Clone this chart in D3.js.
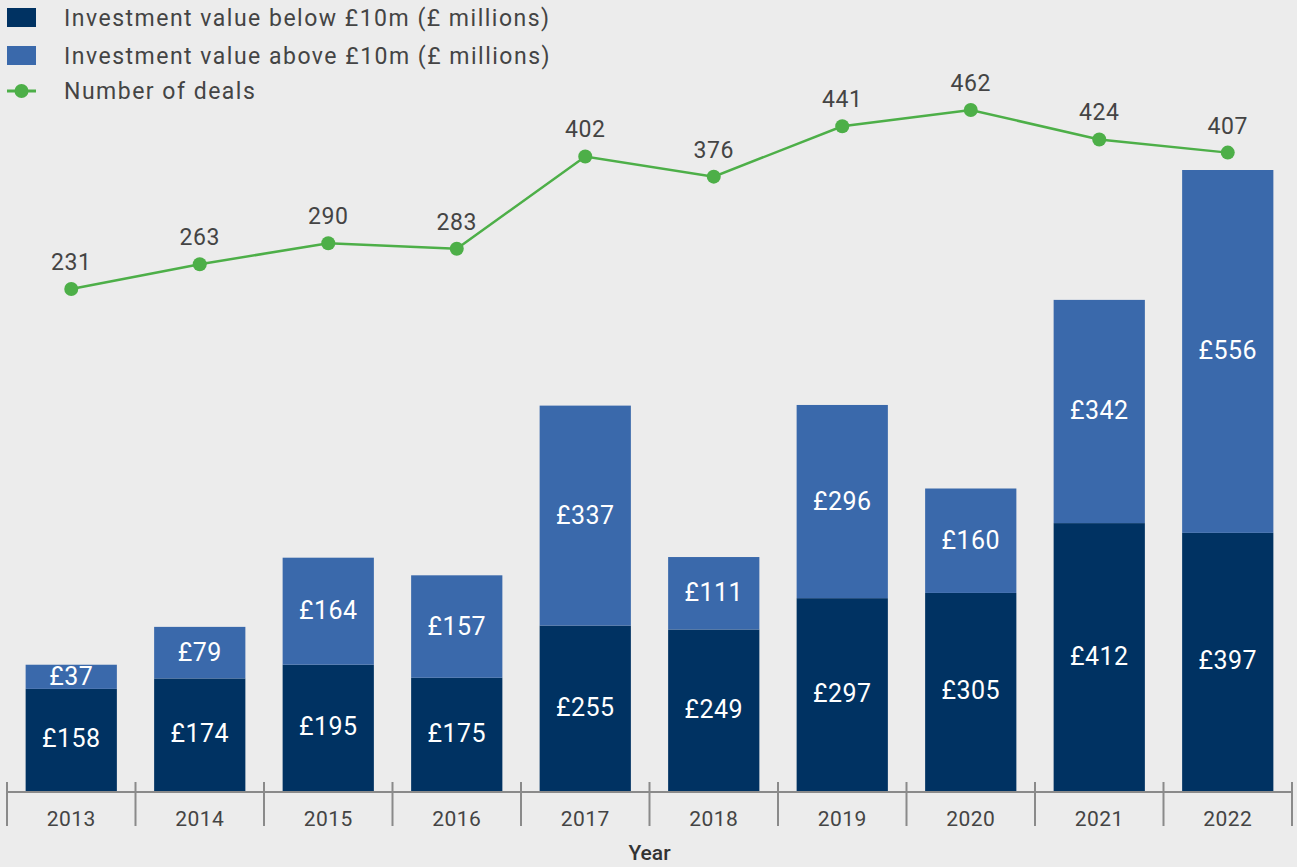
<!DOCTYPE html>
<html>
<head>
<meta charset="utf-8">
<script src="https://cdn.jsdelivr.net/npm/d3@7"></script>
<style>
  body { margin: 0; background: #ececec; }
  svg { display: block; font-family: Roboto, "Open Sans", sans-serif; }
</style>
</head>
<body>
<svg id="chart" width="1297" height="867"></svg>
<script>
// chart data
var years = ["2013", "2014", "2015", "2016", "2017", "2018", "2019", "2020", "2021", "2022"];
var belowTen = [158, 174, 195, 175, 255, 249, 297, 305, 412, 397];
var aboveTen = [37, 79, 164, 157, 337, 111, 296, 160, 342, 556];
var deals = [231, 263, 290, 283, 402, 376, 441, 462, 424, 407];
var legendLabels = ["Investment value below £10m (£ millions)", "Investment value above £10m (£ millions)", "Number of deals"];

var width = 1297, height = 867,
  left = 7, right = 1292, baseline = 792,
  darkBlue = "#003262", lightBlue = "#3a69ab", green = "#4daf48", textCol = "#444";

var svg = d3.select("#chart");
svg.append("rect").attr("width", width).attr("height", height).attr("fill", "#ececec");

var x = d3.scaleBand().domain(years).range([left, right]).paddingInner(0.29).paddingOuter(0.145);
var band = d3.scaleBand().domain(years).range([left, right]);
var y = d3.scaleLinear().domain([0, 953]).range([baseline, 170]);
var yLine = d3.scaleLinear().domain([0, 462]).range([468, 110]);

var rows = years.map(function(yr, i) {
  return { year: yr, below: belowTen[i], above: aboveTen[i], deals: deals[i] };
});

// stacked bars
var g = svg.append("g");
rows.forEach(function(d) {
  g.append("rect")
    .attr("x", x(d.year)).attr("width", x.bandwidth())
    .attr("y", y(d.below)).attr("height", baseline - y(d.below))
    .attr("fill", darkBlue);
  g.append("rect")
    .attr("x", x(d.year)).attr("width", x.bandwidth())
    .attr("y", y(d.below + d.above)).attr("height", y(d.below) - y(d.below + d.above))
    .attr("fill", lightBlue);
  g.append("text")
    .attr("x", x(d.year) + x.bandwidth() / 2)
    .attr("y", (y(0) + y(d.below)) / 2 - 2)
    .attr("dy", "0.36em").attr("text-anchor", "middle")
    .attr("fill", "#fff").attr("font-size", 25).attr("letter-spacing", 0.5)
    .text("£" + d.below);
  g.append("text")
    .attr("x", x(d.year) + x.bandwidth() / 2)
    .attr("y", (y(d.below) + y(d.below + d.above)) / 2 - 1)
    .attr("dy", "0.36em").attr("text-anchor", "middle")
    .attr("fill", "#fff").attr("font-size", 25).attr("letter-spacing", 0.5)
    .text("£" + d.above);
});

// x axis
var axis = svg.append("g");
axis.append("line").attr("x1", left).attr("x2", right).attr("y1", baseline).attr("y2", baseline)
  .attr("stroke", "#8a8a8a").attr("stroke-width", 2);
var edges = years.map(function(yr) { return band(yr); }).concat([right]);
edges.forEach(function(ex) {
  axis.append("line").attr("x1", ex).attr("x2", ex).attr("y1", 782).attr("y2", 826)
    .attr("stroke", "#8a8a8a").attr("stroke-width", 2);
});
years.forEach(function(yr) {
  axis.append("text")
    .attr("x", band(yr) + band.bandwidth() / 2).attr("y", 826)
    .attr("text-anchor", "middle").attr("fill", textCol).attr("font-size", 21).attr("letter-spacing", 0.5)
    .text(yr);
});
axis.append("text").attr("x", (left + right) / 2).attr("y", 860)
  .attr("text-anchor", "middle").attr("fill", "#333").attr("font-size", 21).attr("font-weight", 500)
  .text("Year");

// deals line
var line = d3.line()
  .x(function(d) { return band(d.year) + band.bandwidth() / 2; })
  .y(function(d) { return yLine(d.deals); });
svg.append("path").datum(rows).attr("d", line)
  .attr("fill", "none").attr("stroke", green).attr("stroke-width", 2.5);
svg.selectAll(".dot").data(rows).enter().append("circle")
  .attr("cx", function(d) { return band(d.year) + band.bandwidth() / 2; })
  .attr("cy", function(d) { return yLine(d.deals); })
  .attr("r", 7).attr("fill", green);
svg.selectAll(".dlab").data(rows).enter().append("text")
  .attr("x", function(d) { return band(d.year) + band.bandwidth() / 2; })
  .attr("y", function(d) { return yLine(d.deals) - 19; })
  .attr("text-anchor", "middle").attr("fill", textCol).attr("font-size", 23).attr("letter-spacing", 0.5)
  .text(function(d) { return d.deals; });

// legend
var legend = svg.append("g");
var ly = [18, 56, 91];
legend.append("rect").attr("x", 7).attr("y", ly[0] - 10).attr("width", 29).attr("height", 19).attr("fill", darkBlue);
legend.append("rect").attr("x", 7).attr("y", ly[1] - 10).attr("width", 29).attr("height", 19).attr("fill", lightBlue);
legend.append("line").attr("x1", 7).attr("x2", 36).attr("y1", ly[2]).attr("y2", ly[2])
  .attr("stroke", green).attr("stroke-width", 3);
legend.append("circle").attr("cx", 21.5).attr("cy", ly[2]).attr("r", 7).attr("fill", green);
legendLabels.forEach(function(t, i) {
  legend.append("text").attr("x", 64).attr("y", ly[i]).attr("dy", "0.36em")
    .attr("fill", textCol).attr("font-size", 23).attr("letter-spacing", 1.5).text(t);
});
</script>
</body>
</html>
